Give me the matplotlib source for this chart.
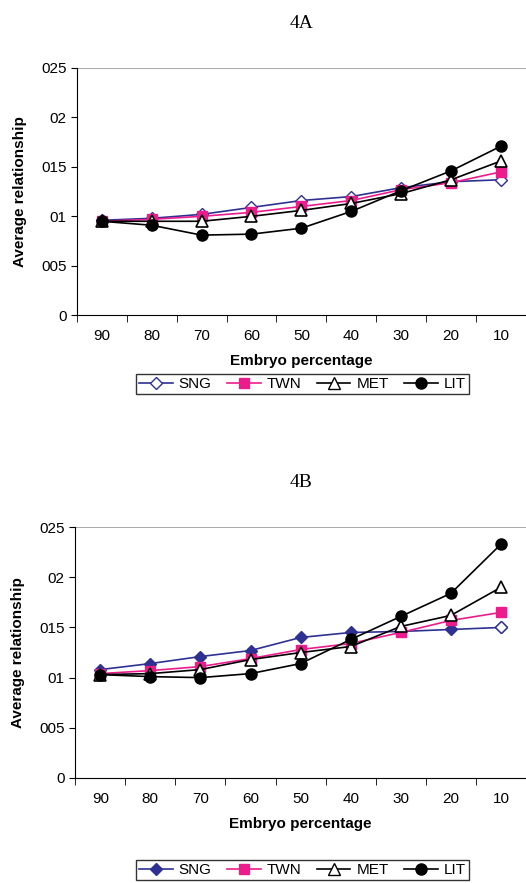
import matplotlib
matplotlib.use("Agg")
import matplotlib.pyplot as plt
from matplotlib.lines import Line2D

cats = ["90", "80", "70", "60", "50", "40", "30", "20", "10"]
ytick_vals = [0, 0.05, 0.10, 0.15, 0.20, 0.25]
ytick_labels = ["0", "005", "01", "015", "02", "025"]

a_sng = [0.096, 0.098, 0.102, 0.109, 0.116, 0.120, 0.129, 0.135, 0.137]
a_twn = [0.095, 0.097, 0.100, 0.104, 0.110, 0.116, 0.127, 0.134, 0.145]
a_met = [0.095, 0.095, 0.095, 0.100, 0.106, 0.113, 0.123, 0.137, 0.156]
a_lit = [0.095, 0.091, 0.081, 0.082, 0.088, 0.105, 0.126, 0.146, 0.171]

b_sng = [0.108, 0.114, 0.121, 0.127, 0.140, 0.145, 0.146, 0.148, 0.150]
b_twn = [0.104, 0.107, 0.111, 0.119, 0.128, 0.134, 0.145, 0.157, 0.165]
b_met = [0.103, 0.104, 0.108, 0.118, 0.125, 0.131, 0.151, 0.162, 0.190]
b_lit = [0.103, 0.101, 0.100, 0.104, 0.114, 0.138, 0.161, 0.184, 0.233]

plt.rcParams['font.family'] = ['Liberation Sans', 'DejaVu Sans']
BLUE = "#2e3192"; PINK = "#ec1c8c"

fig = plt.figure(figsize=(5.26, 8.83), dpi=100)

def panel(rect, title, sng, twn, met, lit, sng_filled, legy):
    ax = fig.add_axes(rect)
    x = list(range(len(cats)))
    if sng_filled:
        ax.plot(x, sng, color=BLUE, lw=1.2, marker="D", ms=6, mfc=BLUE, mec=BLUE, zorder=3)
        ax.plot(x[-1:], sng[-1:], ls="none", marker="D", ms=6, mfc="white", mec=BLUE, zorder=4)
    else:
        ax.plot(x, sng, color=BLUE, lw=1.2, marker="D", ms=6, mfc="white", mec=BLUE, zorder=3)
    ax.plot(x, twn, color=PINK, lw=1.2, marker="s", ms=7, mfc=PINK, mec=PINK, zorder=3)
    ax.plot(x, met, color="black", lw=1.2, marker="^", ms=8, mfc="white", mec="black", mew=1.2, zorder=4)
    ax.plot(x, lit, color="black", lw=1.2, marker="o", ms=8, mfc="black", mec="black", zorder=5)
    ax.set_xlim(-0.5, len(cats) - 0.5)
    ax.set_ylim(0, 0.25)
    ax.set_yticks(ytick_vals)
    ax.set_yticklabels(ytick_labels, fontsize=11)
    ax.set_xticks(x)
    ax.set_xticklabels(cats, fontsize=11)
    ax.set_xticks([i + 0.5 for i in range(-1, len(cats))], minor=True)
    ax.tick_params(axis="x", which="major", length=0, pad=10)
    ax.tick_params(axis="x", which="minor", length=5, direction="out")
    ax.tick_params(axis="y", length=4)
    ax.axhline(0.25, color="#999999", lw=1.2)
    ax.spines["top"].set_visible(False)
    ax.spines["right"].set_visible(False)
    ax.set_xlabel("Embryo percentage", fontsize=11, fontweight="bold", labelpad=8)
    ax.set_ylabel("Average relationship", fontsize=11, fontweight="bold", labelpad=10)
    ax.set_title(title, fontsize=14, family="Liberation Serif", pad=29)
    handles = [
        Line2D([], [], color=BLUE, marker="D", ms=6, mfc=BLUE if sng_filled else "white", mec=BLUE, lw=1.2),
        Line2D([], [], color=PINK, marker="s", ms=7, mfc=PINK, mec=PINK, lw=1.2),
        Line2D([], [], color="black", marker="^", ms=8, mfc="white", mec="black", lw=1.2),
        Line2D([], [], color="black", marker="o", ms=8, mfc="black", lw=1.2),
    ]
    fig.legend(handles, ["SNG", "TWN", "MET", "LIT"], loc="center", bbox_to_anchor=(0.575, legy),
               ncol=4, fontsize=11, frameon=True, fancybox=False, edgecolor="black",
               handlelength=2.2, columnspacing=1.0, handletextpad=0.4, borderpad=0.2)
    return ax

panel([0.146, 0.643, 0.854, 0.280], "4A", a_sng, a_twn, a_met, a_lit, False, 1 - 384 / 883)
panel([0.143, 0.119, 0.857, 0.284], "4B", b_sng, b_twn, b_met, b_lit, True, 1 - 870 / 883)

fig.savefig("out.png", dpi=100)
